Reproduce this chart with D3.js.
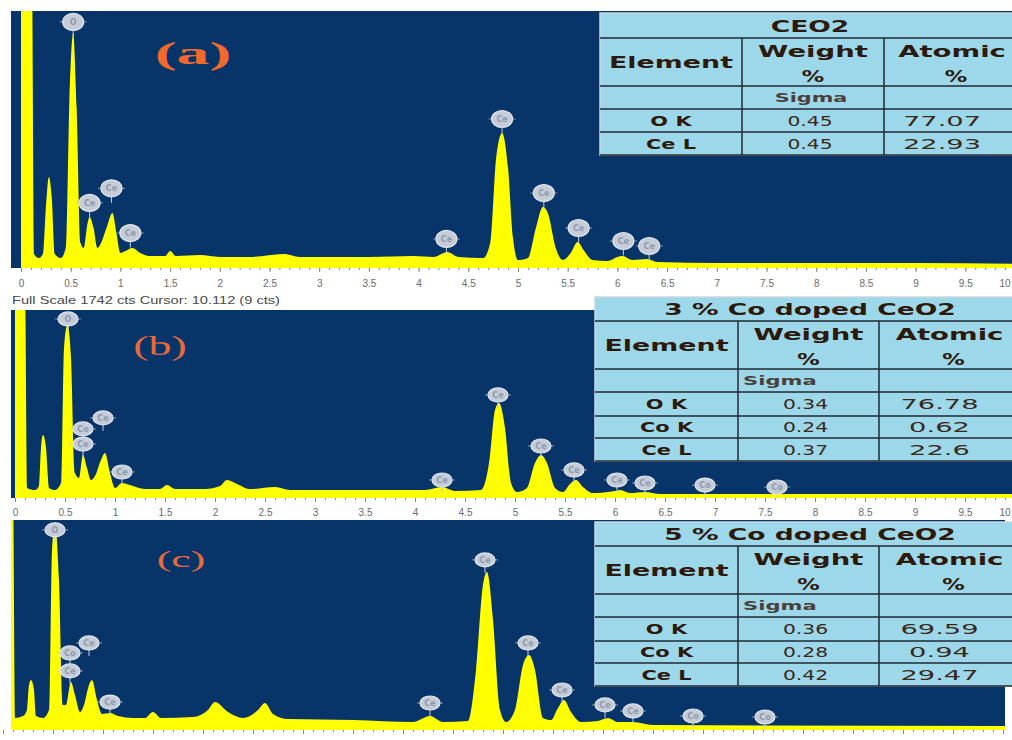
<!DOCTYPE html>
<html>
<head>
<meta charset="utf-8">
<script src="https://cdn.jsdelivr.net/npm/d3@7"></script>
<style>
    body { margin: 0; background: #fff; }
    svg { display: block; }
</style>
</head>
<body>
<svg id="chart" width="1012" height="740"></svg>
<script>
// ---- values (keV, counts) ----
const fullScale = 1742;
const tickLabels = [0, 0.5, 1, 1.5, 2, 2.5, 3, 3.5, 4, 4.5, 5, 5.5, 6, 6.5, 7, 7.5, 8, 8.5, 9, 9.5, 10];

const spectrumA = [
    [0, 2000], [0.11, 2000], [0.13, 95], [0.18, 68], [0.22, 95], [0.25, 407], [0.28, 617], [0.31, 475],
    [0.34, 95], [0.40, 68], [0.45, 136], [0.49, 1220], [0.525, 1593], [0.56, 1085], [0.60, 170], [0.63, 136],
    [0.67, 305], [0.69, 346], [0.73, 271], [0.77, 136], [0.80, 163], [0.86, 271], [0.92, 373], [0.96, 237],
    [1.00, 102], [1.05, 115], [1.12, 136], [1.20, 102], [1.30, 81], [1.45, 81], [1.50, 115], [1.56, 81],
    [1.8, 88], [2.0, 75], [2.3, 75], [2.65, 95], [2.8, 75], [3.5, 75], [3.95, 81], [4.15, 75], [4.29, 108],
    [4.40, 75], [4.65, 68], [4.72, 170], [4.78, 746], [4.84, 915], [4.90, 678], [4.95, 203], [5.00, 54],
    [5.10, 68], [5.18, 271], [5.25, 413], [5.30, 373], [5.38, 136], [5.45, 54], [5.53, 102], [5.60, 176],
    [5.66, 122], [5.75, 54], [5.9, 47], [6.0, 75], [6.05, 81], [6.15, 54], [6.3, 61], [6.4, 41],
    [7.0, 34], [8.0, 34], [9.0, 34], [10.2, 27]
];
const spectrumB = [
    [0, 2000], [0.10, 2000], [0.12, 93], [0.2, 74], [0.24, 111], [0.26, 464], [0.28, 584], [0.31, 464],
    [0.34, 93], [0.40, 74], [0.46, 139], [0.49, 1390], [0.525, 1604], [0.56, 1298], [0.60, 232], [0.64, 185],
    [0.68, 399], [0.72, 278], [0.76, 167], [0.80, 204], [0.86, 352], [0.90, 417], [0.95, 232], [1.00, 93],
    [1.07, 139], [1.15, 120], [1.3, 83], [1.45, 83], [1.52, 120], [1.6, 83], [1.9, 83], [2.05, 111],
    [2.12, 167], [2.22, 130], [2.35, 83], [2.6, 102], [2.75, 74], [3.5, 74], [4.1, 74], [4.27, 102],
    [4.4, 65], [4.66, 74], [4.74, 324], [4.8, 816], [4.84, 880], [4.9, 649], [4.96, 139], [5.02, 56],
    [5.12, 93], [5.2, 324], [5.26, 399], [5.32, 324], [5.4, 93], [5.48, 56], [5.55, 130], [5.61, 167],
    [5.68, 102], [5.78, 46], [6.0, 65], [6.05, 74], [6.15, 46], [6.3, 56], [6.45, 37], [10.2, 37]
];
const spectrumC = [
    [0, 2000], [0.10, 2000], [0.12, 100], [0.2, 116], [0.24, 166], [0.26, 374], [0.28, 415], [0.31, 332],
    [0.33, 116], [0.40, 100], [0.46, 166], [0.49, 1494], [0.52, 1726], [0.56, 1245], [0.60, 208], [0.63, 208],
    [0.68, 398], [0.72, 290], [0.77, 149], [0.81, 208], [0.86, 374], [0.89, 415], [0.94, 249], [0.99, 133],
    [1.07, 141], [1.15, 116], [1.3, 100], [1.42, 100], [1.50, 149], [1.58, 100], [1.9, 108], [2.05, 166],
    [2.12, 232], [2.25, 149], [2.4, 100], [2.55, 166], [2.62, 224], [2.70, 133], [2.85, 91], [3.5, 83],
    [4.1, 66], [4.27, 116], [4.4, 66], [4.65, 75], [4.73, 498], [4.80, 1204], [4.84, 1311], [4.90, 913],
    [4.97, 166], [5.03, 66], [5.12, 166], [5.2, 540], [5.26, 622], [5.32, 498], [5.40, 100], [5.48, 83],
    [5.55, 183], [5.61, 249], [5.68, 149], [5.78, 66], [5.95, 75], [6.05, 100], [6.15, 66], [6.3, 66],
    [6.5, 41], [10.1, 33]
];

// peak labels: [element, keV, counts at label centre]
const markersA = [
    ["O", 0.525, 1668], ["Ce", 0.69, 441], ["Ce", 0.91, 540], ["Ce", 1.1, 237], ["Ce", 4.28, 197],
    ["Ce", 4.84, 1010], ["Ce", 5.26, 508], ["Ce", 5.61, 271], ["Ce", 6.06, 183], ["Ce", 6.32, 149]
];
const markersB = [
    ["O", 0.53, 1659], ["Co", 0.68, 640], ["Ce", 0.68, 500], ["Ce", 0.88, 742], ["Ce", 1.07, 241],
    ["Ce", 4.27, 167], ["Ce", 4.83, 955], ["Ce", 5.26, 482], ["Ce", 5.59, 260], ["Ce", 6.02, 167],
    ["Ce", 6.3, 139], ["Co", 6.9, 120], ["Co", 7.62, 102]
];
const markersC = [
    ["O", 0.52, 1660], ["Co", 0.67, 639], ["Ce", 0.67, 490], ["Ce", 0.86, 722], ["Ce", 1.07, 232],
    ["Ce", 4.27, 224], ["Ce", 4.82, 1411], ["Ce", 5.25, 722], ["Ce", 5.59, 332], ["Ce", 6.02, 208],
    ["Ce", 6.3, 158], ["Co", 6.9, 116], ["Co", 7.62, 108]
];

const tableTitles = ["CEO2", "3 % Co doped CeO2", "5 % Co doped CeO2"];
const tableHeader = ["Element", "Weight", "Atomic"];
const sigmaLabel = "Sigma";
const rowsA = [["O K", "0.45", "77.07"], ["Ce L", "0.45", "22.93"]];
const rowsB = [["O K", "0.34", "76.78"], ["Co K", "0.24", "0.62"], ["Ce L", "0.37", "22.6"]];
const rowsC = [["O K", "0.36", "69.59"], ["Co K", "0.28", "0.94"], ["Ce L", "0.42", "29.47"]];
const panelLabels = ["(a)", "(b)", "(c)"];

// ---- layout ----
const navy = "#07356a";
const yellow = "#ffff00";
const ink = "#2d1a0c";

const panels = [
    { spectrum: spectrumA, markers: markersA, rows: rowsA, label: panelLabels[0], title: tableTitles[0],
      box: { left: 11, right: 1012, top: 11, bottom: 268 }, x0: 21, ppk: 99.4, pad: 8, showLabels: true,
      mk: { rx: 10.5, ry: 8.5 },
      lab: { x: 193, y: 64, size: 32, sx: 2.05, weight: "bold", color: "#f06a2c" },
      table: { cols: [600, 742, 884, 1020], rowsY: [13, 38, 86, 109, 132, 155], sigmaStart: false } },
    { spectrum: spectrumB, markers: markersB, rows: rowsB, label: panelLabels[1], title: tableTitles[1],
      box: { left: 11, right: 1012, top: 310, bottom: 498 }, x0: 15, ppk: 100, pad: 7, showLabels: true,
      mk: { rx: 10, ry: 7 },
      lab: { x: 160, y: 355, size: 27, sx: 1.7, weight: "normal", color: "#e8693a" },
      table: { cols: [595, 738, 879, 1020], rowsY: [297, 321, 369, 392, 416, 438, 461], sigmaStart: true } },
    { spectrum: spectrumC, markers: markersC, rows: rowsC, label: panelLabels[2], title: tableTitles[2],
      box: { left: 11, right: 1005, top: 520, bottom: 730 }, x0: 3, ppk: 100, pad: 7, showLabels: false,
      mk: { rx: 10, ry: 7 },
      lab: { x: 181, y: 567, size: 23, sx: 1.9, weight: "normal", color: "#e8693a" },
      table: { cols: [595, 738, 879, 1020], rowsY: [522, 546, 594, 617, 641, 663, 686], sigmaStart: true } }
];

const svg = d3.select("#chart");
svg.append("rect").attr("width", 1012).attr("height", 740).attr("fill", "#fff");

panels.forEach((p, i) => drawPanel(p, i));

// instrument note between (a) and (b)
svg.append("text")
    .attr("x", 12).attr("y", 304)
    .attr("textLength", 268).attr("lengthAdjust", "spacingAndGlyphs")
    .style("font", "11px 'Liberation Sans', sans-serif")
    .attr("fill", "#4a4a4a")
    .text("Full Scale 1742 cts Cursor: 10.112  (9 cts)");

panels.forEach(p => drawTable(p));

function drawPanel(p, i) {
    let b = p.box;
    let x = d3.scaleLinear().domain([0, 10]).range([p.x0, p.x0 + 10 * p.ppk]);
    let y = d3.scaleLinear().domain([0, fullScale]).range([b.bottom, b.top]);

    let g = svg.append("g");
    g.append("clipPath").attr("id", "clip" + i)
        .append("rect").attr("x", b.left).attr("y", b.top)
        .attr("width", b.right - b.left).attr("height", b.bottom - b.top);

    g.append("rect")
        .attr("x", b.left).attr("y", b.top)
        .attr("width", b.right - b.left).attr("height", b.bottom - b.top)
        .attr("fill", navy);

    let area = d3.area()
        .x(d => x(d[0]))
        .y0(y(0))
        .y1(d => y(d[1]))
        .curve(d3.curveMonotoneX);

    g.append("path")
        .datum(p.spectrum)
        .attr("clip-path", "url(#clip" + i + ")")
        .attr("d", area)
        .attr("fill", yellow);

    // axis under the spectrum
    let minor = d3.axisBottom(x).tickValues(d3.range(0, 10.05, 0.1)).tickSize(2).tickFormat("");
    let major = d3.axisBottom(x).tickValues(tickLabels).tickSize(4).tickPadding(p.pad)
        .tickFormat(d => String(d));
    let ax = g.append("g").attr("transform", "translate(0," + b.bottom + ")");
    ax.append("g").call(minor);
    ax.append("g").call(major);
    ax.selectAll(".domain").remove();
    ax.selectAll("line").attr("stroke", "#8a8a8a");
    ax.selectAll("text")
        .style("font", "10px 'Liberation Sans', sans-serif")
        .attr("fill", "#6a6a6a");
    // last label would run past the page edge: pull it in
    ax.selectAll("text").filter(d => d === 10)
        .attr("text-anchor", "end")
        .attr("x", Math.min(0, 1010 - x(10)));
    if (!p.showLabels) ax.selectAll("text").remove();

    // peak identification bubbles
    let mk = g.append("g").attr("clip-path", "url(#clip" + i + ")")
        .selectAll("g").data(p.markers).join("g")
        .attr("transform", d => "translate(" + x(d[1]) + "," + y(d[2]) + ")");
    mk.append("line")
        .attr("x1", 0).attr("x2", 0).attr("y1", p.mk.ry).attr("y2", p.mk.ry + 6)
        .attr("stroke", "#c7cfda").attr("stroke-width", 1);
    mk.append("line")
        .attr("x1", -p.mk.rx - 3).attr("x2", p.mk.rx + 3).attr("y1", 0).attr("y2", 0)
        .attr("stroke", "#b8c2d0").attr("stroke-width", 1).attr("opacity", 0.7);
    mk.append("ellipse")
        .attr("rx", p.mk.rx).attr("ry", p.mk.ry)
        .attr("fill", "#c5ccd7").attr("stroke", "#e3e8ef").attr("stroke-width", 1.2);
    mk.append("text")
        .attr("text-anchor", "middle").attr("dy", "0.35em")
        .style("font", "bold 8px 'DejaVu Sans', sans-serif")
        .attr("fill", "#8c99ad")
        .text(d => d[0]);

    // panel letter
    g.append("text")
        .attr("transform", "translate(" + p.lab.x + "," + p.lab.y + ") scale(" + p.lab.sx + ",1)")
        .attr("text-anchor", "middle")
        .style("font-family", "'Liberation Serif', serif")
        .style("font-size", p.lab.size + "px")
        .style("font-weight", p.lab.weight)
        .attr("fill", p.lab.color)
        .text(p.label);
}

function stretchText(g, str, cx, by, size, sx, opts) {
    opts = opts || {};
    return g.append("text")
        .attr("transform", "translate(" + cx + "," + by + ") scale(" + sx + ",1)")
        .attr("text-anchor", opts.anchor || "middle")
        .style("font-family", "'DejaVu Sans', sans-serif")
        .style("font-weight", opts.weight || "bold")
        .style("font-size", size + "px")
        .attr("fill", opts.fill || ink)
        .text(str);
}

function drawTable(p) {
    let t = p.table, c = t.cols, r = t.rowsY;
    let g = svg.append("g");
    let right = 1012;

    g.append("rect")
        .attr("x", c[0]).attr("y", r[0])
        .attr("width", right - c[0] + 4).attr("height", r[r.length - 1] - r[0])
        .attr("fill", "#9dd8ea").attr("stroke", "#c9d6de").attr("stroke-width", 1.5);

    // inner grid
    r.slice(1).forEach(yy => {
        g.append("line").attr("x1", c[0]).attr("x2", right).attr("y1", yy).attr("y2", yy)
            .attr("stroke", "#1f2a33").attr("stroke-width", 1.5);
    });
    [c[1], c[2]].forEach(xx => {
        g.append("line").attr("x1", xx).attr("x2", xx).attr("y1", r[1]).attr("y2", r[r.length - 1])
            .attr("stroke", "#1f2a33").attr("stroke-width", 1.5);
    });

    let mid0 = (c[0] + c[1]) / 2, mid1 = (c[1] + c[2]) / 2, mid2 = (c[2] + c[3]) / 2;
    let numMid2 = (c[2] + 1000) / 2;
    let num = { weight: "normal", fill: "#3a2818" };

    stretchText(g, p.title, 810, (r[0] + r[1]) / 2 + 6, 16, 1.66);
    stretchText(g, tableHeader[0], mid0, (r[1] + r[2]) / 2 + 6, 16, 1.68);
    stretchText(g, tableHeader[1], mid1, r[1] + 18.5, 16, 1.72);
    stretchText(g, "%", mid1, r[1] + 43.5, 16, 1.4);
    stretchText(g, tableHeader[2], mid2, r[1] + 18.5, 16, 1.72);
    stretchText(g, "%", mid2 + 4, r[1] + 43.5, 16, 1.4);

    if (t.sigmaStart) {
        stretchText(g, sigmaLabel, c[1] + 5, (r[2] + r[3]) / 2 + 4.5, 13, 1.62, { anchor: "start", fill: "#4b3f3a" });
    } else {
        stretchText(g, sigmaLabel, mid1 - 2, (r[2] + r[3]) / 2 + 4.5, 13, 1.6, { fill: "#4b3f3a" });
    }

    p.rows.forEach((row, k) => {
        let by = (r[3 + k] + r[4 + k]) / 2 + 5;
        stretchText(g, row[0], mid0, by, 13.5, 1.55);
        stretchText(g, row[1], mid1 - 3, by, 14, 1.45, num);
        stretchText(g, row[2], numMid2, by, 14, 1.95, num);
    });
}
</script>
</body>
</html>
